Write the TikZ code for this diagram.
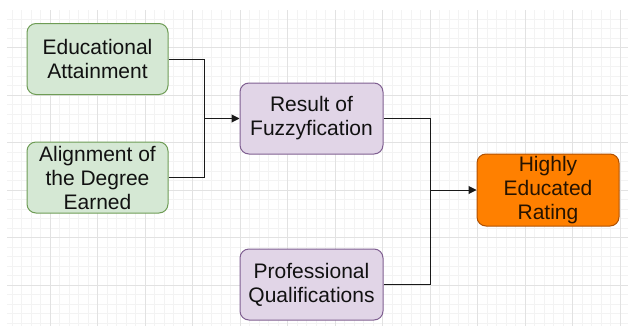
\documentclass[tikz,border=0pt]{standalone}
\usepackage{fontspec}
\setmainfont{Liberation Sans}
\usetikzlibrary{arrows.meta}
\definecolor{gmin}{HTML}{F3F3F3}
\definecolor{gmaj}{HTML}{E2E2E2}
\definecolor{gfill}{HTML}{D5E8D4}
\definecolor{gline}{HTML}{6E9C55}
\definecolor{pfill}{HTML}{E1D5E7}
\definecolor{pline}{HTML}{7F5F91}
\definecolor{ofill}{HTML}{FF8000}
\definecolor{oline}{HTML}{B05000}
\definecolor{txt}{HTML}{111111}
\tikzset{
  box/.style={rounded corners=9pt, line width=1pt, minimum width=141pt, minimum height=71pt,
    align=center, inner sep=0pt, text=txt, font=\fontsize{21}{24}\selectfont},
  greenbox/.style={box, fill=gfill, draw=gline},
  purplebox/.style={box, fill=pfill, draw=pline},
  orangebox/.style={box, fill=ofill, draw=oline, text=black!85!ofill},
  conn/.style={line width=1pt, draw=black!90},
  arr/.style={conn, -{Triangle[length=8pt,width=8pt]}},
}
\begin{document}
\begin{tikzpicture}[x=1pt,y=-1pt]
\useasboundingbox (0,0) rectangle (628,327);
\fill[white] (0,0) rectangle (628,327);
% grid
\begin{scope}
\clip (7,10) rectangle (628,326);
\foreach \i in {0,...,70} {
  \draw[gmin, line width=0.6pt] ({2.5+9.5*\i-47.5},10) -- ({2.5+9.5*\i-47.5},326);
}
\foreach \i in {0,...,40} {
  \draw[gmin, line width=0.6pt] (7,{9.5*\i}) -- (628,{9.5*\i});
}
\foreach \i in {0,...,14} {
  \draw[gmaj, line width=0.9pt] ({2.5+47.5*\i},10) -- ({2.5+47.5*\i},326);
}
\foreach \i in {0,...,7} {
  \draw[gmaj, line width=0.9pt] (7,{47.5*\i}) -- (628,{47.5*\i});
}
\end{scope}
% nodes
\node[greenbox] (edu) at (97.5,59) {Educational\\Attainment};
\node[greenbox] (ali) at (97.5,177.5) {Alignment of\\the Degree\\Earned};
\node[purplebox, minimum width=143pt] (res) at (311.5,118.5) {Result of\\Fuzzyfication};
\node[purplebox, minimum width=143pt] (pro) at (311.5,284.5) {Professional\\Qualifications};
\node[orangebox, minimum width=142pt, minimum height=72pt] (hig) at (548,190) {Highly\\Educated\\Rating};
% connectors
\coordinate (j1) at (204,118.5);
\coordinate (j2) at (430,190);
\draw[conn] (edu.east) -| (j1);
\draw[conn] (ali.east) -| (j1);
\draw[arr] (j1) -- (res.west);
\draw[conn] (res.east) -| (j2);
\draw[conn] (pro.east) -| (j2);
\draw[arr] (j2) -- (hig.west);
\end{tikzpicture}
\end{document}
